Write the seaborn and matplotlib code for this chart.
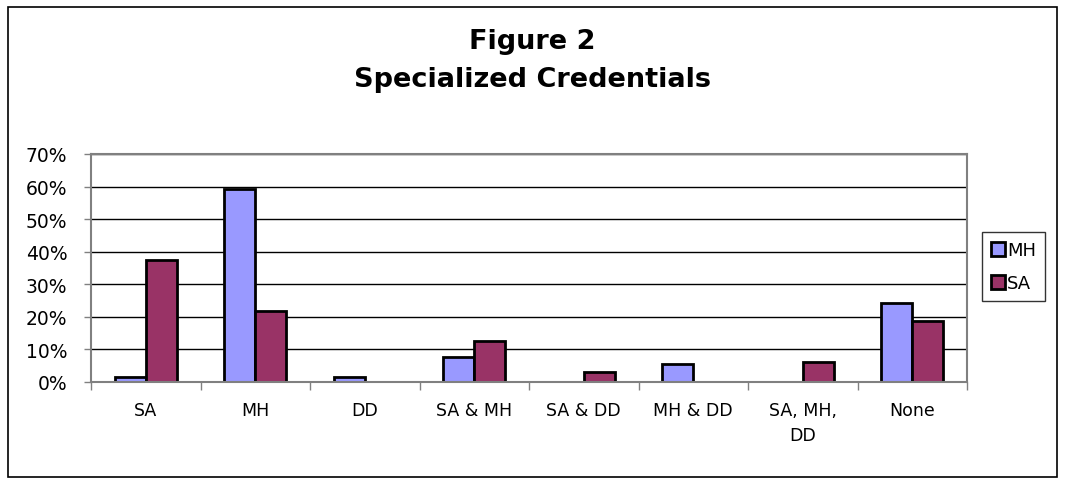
import matplotlib
matplotlib.use("Agg")
import matplotlib.pyplot as plt
import seaborn as sns
import pandas as pd
from matplotlib.patches import Rectangle
from matplotlib.ticker import FuncFormatter, FixedLocator

categories = ["SA", "MH", "DD", "SA & MH", "SA & DD", "MH & DD", "SA, MH,\nDD", "None"]
mh_values = [1.6, 59.4, 1.6, 7.8, 0.0, 5.5, 0.0, 24.2]
sa_values = [37.5, 21.9, 0.0, 12.5, 3.1, 0.0, 6.25, 18.75]
series_names = ["MH", "SA"]
y_ticks = [0, 10, 20, 30, 40, 50, 60, 70]

df = pd.DataFrame({
    "category": categories * 2,
    "value": mh_values + sa_values,
    "series": [series_names[0]] * len(categories) + [series_names[1]] * len(categories),
})

sns.set_theme(style="white")
plt.rcParams['font.family'] = ['DejaVu Sans']
plt.rcParams['text.color'] = 'black'
plt.rcParams['xtick.color'] = 'black'
plt.rcParams['ytick.color'] = 'black'

fig = plt.figure(figsize=(10.65, 4.85), dpi=100)
ax = fig.add_axes([91/1065, 1 - 383/485, (967-91)/1065, (383-155)/485])

palette = {"MH": "#9999FF", "SA": "#993366"}
sns.barplot(data=df, x="category", y="value", hue="series", order=categories,
            hue_order=series_names, palette=palette, width=0.57, gap=0,
            edgecolor="black", linewidth=2, saturation=1, ax=ax, legend=True)

ax.set_ylim(0, 70)
ax.set_xlim(-0.5, len(categories) - 0.5)
ax.yaxis.set_major_locator(FixedLocator(y_ticks))
ax.yaxis.set_major_formatter(FuncFormatter(lambda v, p: f"{int(v)}%"))
ax.grid(axis="y", color="black", linewidth=1)
ax.set_axisbelow(True)
ax.set_xlabel("")
ax.set_ylabel("")

for s in ax.spines.values():
    s.set_color("#808080")
    s.set_linewidth(1.5)
    s.set_visible(True)

ax.tick_params(axis="y", which="major", left=True, length=5, width=1, color="#808080",
               labelsize=13.5, pad=12, labelcolor="black")
ax.tick_params(axis="x", which="major", bottom=False, length=0, labelsize=12.5, pad=14,
               labelcolor="black")
ax.set_xticks([i - 0.5 for i in range(len(categories) + 1)], minor=True)
ax.tick_params(axis="x", which="minor", bottom=True, length=6, width=1, color="#808080")
for lbl in ax.get_xticklabels():
    lbl.set_verticalalignment("top")
    lbl.set_linespacing(1.5)

handles, labels = ax.get_legend_handles_labels()
ax.get_legend().remove()
leg = fig.legend(handles, labels, loc="upper left",
                 bbox_to_anchor=(982/1065, 1 - 233/485), frameon=True,
                 fontsize=13, handlelength=0.75, handleheight=0.8,
                 handletextpad=0.15, borderpad=0.5, labelspacing=0.85,
                 fancybox=False, borderaxespad=0)
leg.get_frame().set_edgecolor("black")
leg.get_frame().set_linewidth(1)

fig.text(532/1065, 1 - 42/485, "Figure 2", ha="center", va="center",
         fontsize=19.5, fontweight="bold", color="black")
fig.text(532/1065, 1 - 80/485, "Specialized Credentials", ha="center", va="center",
         fontsize=19.5, fontweight="bold", color="black")

fig.patches.append(Rectangle((8/1065, 1 - 478/485), (1057-8)/1065, (478-8)/485,
                             transform=fig.transFigure, fill=False,
                             edgecolor="black", linewidth=1.2))

fig.savefig("out.png", dpi=100)
